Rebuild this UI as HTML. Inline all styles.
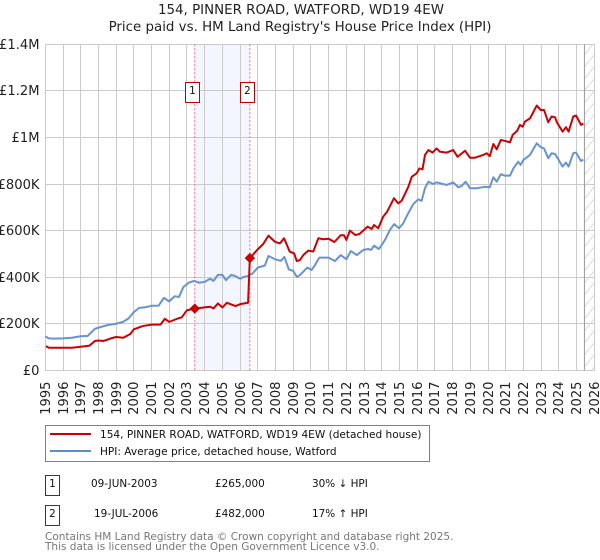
<!DOCTYPE html>
<html>
<head>
<meta charset="utf-8">
<style>
html,body{margin:0;padding:0;background:#fff;}
svg{display:block;font-family:"DejaVu Sans","Liberation Sans",sans-serif;}
</style>
</head>
<body>
<svg id="chart" width="600" height="560" viewBox="0 0 600 560" xmlns="http://www.w3.org/2000/svg">
  <defs>
    <pattern id="hatch" patternUnits="userSpaceOnUse" width="10" height="12">
      <line x1="0" y1="12" x2="10" y2="0" stroke="#d8d8d8" stroke-width="1"/>
    </pattern>
  </defs>
  <text x="301" y="14" text-anchor="middle" font-size="13.4" fill="#222">154, PINNER ROAD, WATFORD, WD19 4EW</text>
  <text x="300" y="31" text-anchor="middle" font-size="13.4" fill="#222">Price paid vs. HM Land Registry's House Price Index (HPI)</text>
  <g id="plot"></g>

  <g>
    <rect x="45.5" y="425.5" width="384" height="36" fill="#fff" stroke="#808080" stroke-width="1"/>
    <line x1="50" y1="434" x2="91" y2="434" stroke="#cc0000" stroke-width="2"/>
    <text x="100" y="438" font-size="10.55" fill="#111">154, PINNER ROAD, WATFORD, WD19 4EW (detached house)</text>
    <line x1="50" y1="451" x2="91" y2="451" stroke="#5b8dd0" stroke-width="2"/>
    <text x="100" y="455" font-size="10.55" fill="#111">HPI: Average price, detached house, Watford</text>
  </g>

  <g font-size="10.45" fill="#111">
    <rect x="45.5" y="475.5" width="14" height="20" fill="#fff" stroke="#c00000" stroke-width="1"/>
    <text x="52.5" y="487" text-anchor="middle">1</text>
    <text x="91" y="487">09-JUN-2003</text>
    <text x="215" y="487">£265,000</text>
    <text x="312" y="487">30% ↓ HPI</text>
  </g>
  <g font-size="10.45" fill="#111">
    <rect x="45.5" y="505.5" width="14" height="20" fill="#fff" stroke="#c00000" stroke-width="1"/>
    <text x="52.5" y="517" text-anchor="middle">2</text>
    <text x="94" y="517">19-JUL-2006</text>
    <text x="215" y="517">£482,000</text>
    <text x="312" y="517">17% ↑ HPI</text>
  </g>

  <text x="45" y="540" font-size="10.5" fill="#777">Contains HM Land Registry data © Crown copyright and database right 2025.</text>
  <text x="45" y="550" font-size="10.5" fill="#777">This data is licensed under the Open Government Licence v3.0.</text>
</svg>
<script>
var yearTicks = [1995,1996,1997,1998,1999,2000,2001,2002,2003,2004,2005,2006,2007,2008,2009,2010,2011,2012,2013,2014,2015,2016,2017,2018,2019,2020,2021,2022,2023,2024,2025,2026];
var valueTicks = [0,200,400,600,800,1000,1200,1400];
var valueTickLabels = ["£0","£200K","£400K","£600K","£800K","£1M","£1.2M","£1.4M"];

var priceDates = [1995.04,1995.2,1996,1996.5,1997,1997.5,1997.8,1998,1998.3,1998.7,1999,1999.4,1999.8,2000,2000.5,2001,2001.5,2001.75,2002,2002.5,2002.7,2003,2003.44,2004,2004.3,2004.5,2004.75,2005,2005.25,2005.75,2006,2006.45,2006.55,2007,2007.3,2007.6,2007.97,2008.25,2008.48,2008.8,2009.05,2009.2,2009.38,2009.57,2009.85,2010.13,2010.42,2010.7,2011,2011.32,2011.68,2011.87,2012,2012.2,2012.5,2012.73,2013.2,2013.43,2013.56,2013.8,2014.08,2014.3,2014.69,2014.93,2015.12,2015.5,2015.69,2015.97,2016.12,2016.3,2016.44,2016.63,2016.87,2017.1,2017.28,2017.66,2018.03,2018.28,2018.7,2018.98,2019.26,2019.73,2019.92,2020.1,2020.3,2020.49,2020.72,2020.96,2021.24,2021.39,2021.65,2021.8,2021.96,2022.08,2022.37,2022.75,2022.97,2023.16,2023.4,2023.59,2023.78,2023.9,2024.21,2024.4,2024.55,2024.81,2024.97,2025.25,2025.38];
var priceValues = [104,97,97,97,101,106,126,128,126,137,143,140,156,176,190,196,196,221,208,223,227,258,265,270,273,266,287,270,290,276,284,290,482,520,542,578,552,545,567,510,502,469,474,495,514,510,567,563,565,551,580,580,560,600,581,585,617,607,624,610,660,681,739,717,728,788,831,846,867,863,925,946,935,953,939,935,946,917,943,913,913,925,932,920,972,949,989,985,979,1011,1029,1054,1046,1068,1082,1137,1118,1118,1065,1090,1087,1063,1025,1044,1025,1090,1094,1054,1060];

var hpiDates = [1995,1995.2,1995.5,1996,1996.5,1997,1997.4,1997.8,1998,1998.5,1999,1999.4,1999.7,2000,2000.3,2000.6,2001,2001.4,2001.7,2002,2002.3,2002.55,2002.8,2003.1,2003.4,2003.7,2004,2004.3,2004.5,2004.75,2005,2005.2,2005.5,2005.75,2006,2006.2,2006.4,2006.7,2007,2007.4,2007.6,2008,2008.3,2008.5,2008.75,2009,2009.2,2009.38,2009.79,2010.04,2010.23,2010.47,2011,2011.36,2011.68,2012,2012.25,2012.59,2012.96,2013.24,2013.4,2013.56,2013.84,2014.18,2014.46,2014.7,2014.97,2015.21,2015.44,2015.78,2016.06,2016.25,2016.44,2016.63,2016.9,2017.1,2017.66,2018.03,2018.32,2018.5,2018.73,2018.98,2019.36,2019.82,2020.1,2020.3,2020.49,2020.72,2020.96,2021.24,2021.43,2021.7,2021.84,2021.99,2022.37,2022.75,2022.97,2023.16,2023.4,2023.59,2023.78,2023.97,2024.2,2024.4,2024.55,2024.81,2024.97,2025.25,2025.38];
var hpiValues = [146,137,136,137,140,146,148,178,183,194,200,208,223,250,268,270,277,278,311,296,318,315,358,376,384,376,380,393,384,410,410,387,410,404,393,401,404,416,441,450,491,476,470,487,433,427,401,409,441,431,452,484,484,469,495,477,512,495,517,521,517,535,521,560,603,628,610,631,667,714,734,728,782,810,800,807,796,807,786,791,810,782,782,788,786,829,810,842,836,836,867,896,882,903,925,975,958,953,911,932,929,906,875,892,875,932,935,899,905];

var saleDates = [2003.44,2006.55];
var saleValues = [265,482];
var saleLabels = ["1","2"];
var dataEndDate = 2025.42;

var NS = "http://www.w3.org/2000/svg";
var plot = document.getElementById("plot");
function xScale(year){ return 45.3 + (year - 1995) * 17.71; }
function yScale(value){ return 370.3 - value * 46.57 / 200; }
function make(tag, attrs, text){
  var el = document.createElementNS(NS, tag);
  for (var k in attrs) el.setAttribute(k, attrs[k]);
  if (text !== undefined) el.textContent = text;
  plot.appendChild(el);
  return el;
}
var top_ = yScale(1400), bottom_ = yScale(0);

var band = make("rect", {x: xScale(saleDates[0]), y: top_, width: xScale(saleDates[1]) - xScale(saleDates[0]), height: bottom_ - top_, fill: "#f3f6fe"});



yearTicks.forEach(function(yr){
  var x = Math.round(xScale(yr) - 0.5) + 0.5;
  var g = make("line", {x1: x, x2: x, y1: top_, y2: bottom_, stroke: "#cacaca", "stroke-width": 1});
  
  
  var lx = x + 4.5, ly = 381.5;
  var t = make("text", {x: lx, y: ly, "font-size": 13.1, fill: "#222", "text-anchor": "end", transform: "rotate(-90 " + lx + " " + ly + ")"}, String(yr));
  
  
});
valueTicks.forEach(function(v, i){
  var y = Math.round(yScale(v) - 0.5) + 0.5;
  var g = make("line", {x1: 45, x2: 594.5, y1: y, y2: y, stroke: "#cacaca", "stroke-width": 1});
  
  
  var t = make("text", {x: 39.5, y: y + 4.5, "font-size": 13.1, fill: "#222", "text-anchor": "end"}, valueTickLabels[i]);
  
  
});

var hatch = make("rect", {x: xScale(dataEndDate), y: top_, width: xScale(2026) - xScale(dataEndDate), height: bottom_ - top_, fill: "url(#hatch)"});


var endLine = make("line", {x1: xScale(dataEndDate) + 0.4, x2: xScale(dataEndDate) + 0.4, y1: top_, y2: bottom_, stroke: "#999", "stroke-width": 1});



saleDates.forEach(function(d){
  var x = xScale(d);
  var l = make("line", {x1: x, x2: x, y1: top_, y2: bottom_, stroke: "#f06a78", "stroke-width": 1, "stroke-dasharray": "2 2"});
  
  
});

function pathOf(dates, values){
  return dates.map(function(d, i){
    return xScale(d).toFixed(2) + "," + yScale(values[i]).toFixed(2);
  }).join(" ");
}
var hpiLine = make("polyline", {points: pathOf(hpiDates, hpiValues), fill: "none", stroke: "#6793d3", "stroke-width": 2, "stroke-linejoin": "round"});


var priceLine = make("polyline", {points: pathOf(priceDates, priceValues), fill: "none", stroke: "#cc0000", "stroke-width": 2, "stroke-linejoin": "round"});



saleDates.forEach(function(d, i){
  var x = xScale(d), y = yScale(saleValues[i]);
  var m = make("polygon", {points: (x-4.5)+","+y+" "+x+","+(y-4.5)+" "+(x+4.5)+","+y+" "+x+","+(y+4.5), fill: "#cc0000", stroke: "#cc0000", "stroke-width": 1});
  
  
  var bx = Math.floor(x - 9.5) + 0.5;
  var box = make("rect", {x: bx, y: 82.5, width: 14, height: 20, fill: "#fff", stroke: "#c00000", "stroke-width": 1});
  
  
  var tx = make("text", {x: bx + 7, y: 94, "font-size": 10.45, fill: "#111", "text-anchor": "middle"}, saleLabels[i]);
  
  
});
</script>
</body>
</html>
